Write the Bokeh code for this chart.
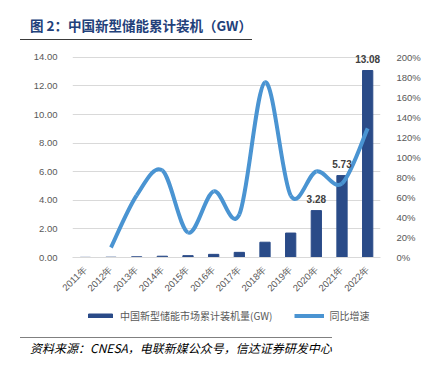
from bokeh.plotting import figure
from bokeh.layouts import column
from bokeh.models import (Range1d, LinearAxis, FixedTicker, NumeralTickFormatter,
                          Label, Legend, LegendItem, Div)
from bokeh.embed import file_html
from bokeh.resources import INLINE
import math

years = ["2011年", "2012年", "2013年", "2014年", "2015年", "2016年",
         "2017年", "2018年", "2019年", "2020年", "2021年", "2022年"]
capacity_gw = [0.01, 0.02, 0.05, 0.09, 0.13, 0.22, 0.36, 1.07, 1.71, 3.28, 5.73, 13.08]
growth_years = ["2012年", "2013年", "2014年", "2015年", "2016年", "2017年",
                "2018年", "2019年", "2020年", "2021年", "2022年"]
growth_rate = [0.10, 0.62, 0.87, 0.25, 0.66, 0.43, 1.75, 0.62, 0.86, 0.74, 1.29]
left_ticks = [0, 2, 4, 6, 8, 10, 12, 14]
right_ticks = [0, 0.2, 0.4, 0.6, 0.8, 1.0, 1.2, 1.4, 1.6, 1.8, 2.0]
labelled_years = ["2020年", "2021年", "2022年"]
title_text = "图 2：中国新型储能累计装机（GW）"
source_text = "资料来源：CNESA，电联新媒公众号，信达证券研发中心"
bar_label = "中国新型储能市场累计装机量(GW)"
line_label = "同比增速"

BAR = "#2a4b88"
LINE = "#4a94d2"
GRID = "#d9d9d9"
TXT = "#595959"
NUMF = "Liberation Sans"
CJK = "Noto Sans CJK SC"

W = 427
TOP_H, MAIN_H, KEY_H, BOT_H = 44, 256, 30, 42
HEAD_ROOM = 0.9   # extra room above the top tick so the data label is not clipped

# --- header: title and rule ---
header = Div(width=W, height=TOP_H, margin=0, text=(
    '<div style="margin:0 9px 0 20px; padding:15px 0 4px 10px; '
    'border-bottom:1px solid #3a3a3a; font-family:\'Noto Sans CJK SC\'; '
    'font-weight:bold; font-size:13.5px; line-height:20px; color:#22407a; '
    'white-space:nowrap;">' + title_text + '</div>'))

# --- main chart ---
y_top = left_ticks[-1] + HEAD_ROOM
p = figure(width=W, height=MAIN_H, output_backend="svg", toolbar_location=None,
           x_range=Range1d(0, len(years)), y_range=Range1d(0, y_top))
p.min_border = 0
p.min_border_left = 72
p.min_border_right = 47
p.min_border_top = 0
p.min_border_bottom = 40
p.frame_align = False
p.outline_line_color = None

xs = [i + 0.5 for i in range(len(years))]
p.vbar(x=xs, top=capacity_gw, width=0.40, color=BAR)

p.extra_y_ranges = {"pct": Range1d(0, right_ticks[-1] * y_top / left_ticks[-1])}
ax_r = LinearAxis(y_range_name="pct")
p.add_layout(ax_r, "right")

# smooth line (Excel-like) built from Bezier segments computed from the data
gx = [years.index(g) + 0.5 for g in growth_years]
n = len(gx)
x0s, y0s, x1s, y1s, cx0s, cy0s, cx1s, cy1s = [], [], [], [], [], [], [], []
for i in range(n - 1):
    a = max(i - 1, 0)
    d = min(i + 2, n - 1)
    x0s.append(gx[i]); y0s.append(growth_rate[i])
    x1s.append(gx[i + 1]); y1s.append(growth_rate[i + 1])
    cx0s.append(gx[i] + (gx[i + 1] - gx[a]) / 6)
    cy0s.append(growth_rate[i] + (growth_rate[i + 1] - growth_rate[a]) / 6)
    cx1s.append(gx[i + 1] - (gx[d] - gx[i]) / 6)
    cy1s.append(growth_rate[i + 1] - (growth_rate[d] - growth_rate[i]) / 6)
p.bezier(x0=x0s, y0=y0s, x1=x1s, y1=y1s, cx0=cx0s, cy0=cy0s,
         cx1=cx1s, cy1=cy1s, line_color=LINE, line_width=4,
         y_range_name="pct")

ax_l = p.yaxis[0]
ax_l.ticker = FixedTicker(ticks=left_ticks)
ax_l.formatter = NumeralTickFormatter(format="0.00")
ax_r.ticker = FixedTicker(ticks=right_ticks)
ax_r.formatter = NumeralTickFormatter(format="0%")
for ax in (ax_l, ax_r):
    ax.axis_line_color = None
    ax.major_tick_line_color = None
    ax.minor_tick_line_color = None
    ax.major_label_text_font = NUMF
    ax.major_label_text_font_size = "9.5px"
    ax.major_label_text_color = TXT
ax_l.major_label_standoff = 9
ax_r.major_label_standoff = 10

ax_b = p.xaxis[0]
ax_b.ticker = FixedTicker(ticks=xs)
ax_b.major_label_overrides = {x: y for x, y in zip(xs, years)}
ax_b.major_label_orientation = math.pi / 4
ax_b.axis_line_color = GRID
ax_b.major_tick_line_color = None
ax_b.minor_tick_line_color = None
ax_b.major_label_text_font = NUMF
ax_b.major_label_text_font_size = "9.5px"
ax_b.major_label_text_color = TXT
ax_b.major_label_standoff = 4

p.xgrid.grid_line_color = None
p.ygrid.ticker = FixedTicker(ticks=left_ticks)
p.ygrid.grid_line_color = GRID

for yr in labelled_years:
    i = years.index(yr)
    p.add_layout(Label(x=xs[i], y=capacity_gw[i], text=f"{capacity_gw[i]:.2f}",
                       y_offset=8, text_align="center", text_baseline="bottom",
                       text_font=NUMF, text_font_style="bold", text_font_size="10px",
                       text_color="#404040"))

# --- legend strip ---
key = figure(width=W, height=KEY_H, output_backend="svg", toolbar_location=None,
             x_axis_type=None, y_axis_type=None,
             x_range=Range1d(0, len(years)), y_range=Range1d(0, y_top))
key.min_border = 0
key.min_border_left = 0
key.min_border_right = 0
key.min_border_top = 0
key.min_border_bottom = 0
key.frame_align = False
key.grid.visible = False
key.outline_line_color = None
key_bar = key.vbar(x=xs, top=capacity_gw, width=0.40, color=BAR, visible=False)
key_line = key.line(x=gx, y=growth_rate, line_color=LINE, line_width=4, visible=False)
legend = Legend(items=[LegendItem(label=bar_label, renderers=[key_bar]),
                       LegendItem(label=line_label, renderers=[key_line])],
                orientation="horizontal", location=(85, 7),
                glyph_width=30, glyph_height=5, label_text_font=CJK,
                label_text_font_size="10px", label_text_color=TXT,
                padding=0, margin=0, spacing=22, label_standoff=5,
                inactive_fill_alpha=0,
                border_line_color=None, background_fill_alpha=0)
key.add_layout(legend, "center")

# --- footer: rule and source ---
footer = Div(width=W, height=BOT_H, margin=0, text=(
    '<div style="margin:7px 9px 0 20px; padding:1.5px 0 0 10px; '
    'border-top:1.5px solid #808080; font-family:\'Noto Sans CJK SC\'; '
    'font-style:italic; font-size:12px; line-height:16px; color:#000000; '
    'white-space:nowrap;">' + source_text + '</div>'))

layout = column(header, p, key, footer, spacing=0)
open("out.html", "w").write(file_html(layout, INLINE))
